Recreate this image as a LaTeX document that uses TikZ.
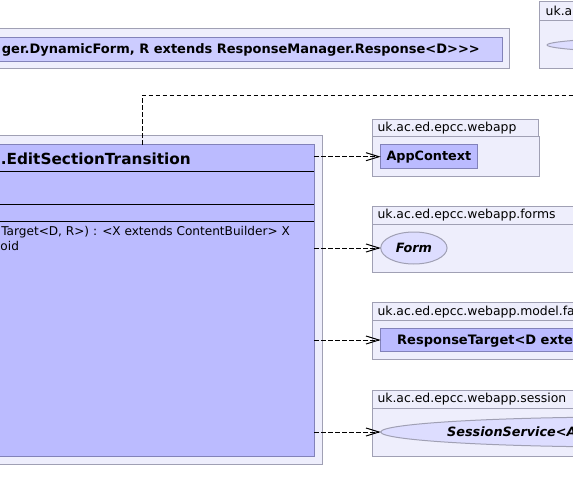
\documentclass[tikz,border=0pt]{standalone}
\usepackage{fontspec}
\setmainfont{DejaVu Sans}[Ligatures=TeXOff,BoldFont={DejaVu Sans Bold},ItalicFont={DejaVu Sans Oblique},BoldItalicFont={DejaVu Sans Bold Oblique}]
\usetikzlibrary{arrows.meta,shapes.geometric}
\definecolor{pkgfill}{RGB}{238,238,252}
\definecolor{pkgline}{RGB}{160,160,180}
\definecolor{clsfill}{RGB}{187,187,255}
\definecolor{clsline}{RGB}{130,130,185}
\definecolor{tplfill}{RGB}{204,204,255}
\definecolor{ifill}{RGB}{221,221,255}
\tikzset{
  box/.style={rectangle, inner sep=0pt, outer sep=0pt, line width=1bp},
  pkgbox/.style={box, draw=pkgline, fill=pkgfill},
  clsbox/.style={box, draw=clsline, fill=clsfill},
  tplbox/.style={box, draw=clsline, fill=tplfill},
  ifc/.style={ellipse, inner sep=0pt, outer sep=0pt, draw=pkgline, fill=ifill, line width=1bp},
  lbl/.style={inner sep=0pt, font=\fontsize{12.4bp}{14bp}\selectfont},
  mth/.style={inner sep=0pt, font=\fontsize{12.1bp}{14bp}\selectfont},
  bld/.style={inner sep=0pt, font=\fontsize{12.8bp}{14bp}\selectfont\bfseries},
  bldw/.style={inner sep=0pt, font=\fontsize{13bp}{14bp}\selectfont\bfseries},
  bit/.style={inner sep=0pt, font=\fontsize{12.8bp}{14bp}\selectfont\bfseries\itshape},
  ttl/.style={inner sep=0pt, font=\fontsize{15.3bp}{18bp}\selectfont\bfseries},
  sepline/.style={draw=black, line width=1bp},
  deppath/.style={draw=black, line width=1bp, dash pattern=on 4.5bp off 2.5bp},
  dep/.style={deppath, -{Straight Barb[length=13bp,width=8bp,line width=1bp]}},
}
\begin{document}
\begin{tikzpicture}[x=1bp,y=-1bp]
\useasboundingbox (0,0) rectangle (573,502);
\fill[white] (0,0) rectangle (573,502);
\clip (0,0) rectangle (573,502);

% top template box
\node[pkgbox, anchor=north west, minimum width=609bp, minimum height=40bp] (tplpkg) at (-100,29) {};
\node[tplbox, anchor=north west, minimum width=602bp, minimum height=24.5bp] (tplcls) at (-100,37.2) {};
\node[bldw, anchor=base east] (tpltxt) at (480,53.5) {ger.DynamicForm, R extends ResponseManager.Response<D>\kern0pt>\kern0pt>};

% top right package
\node[pkgbox, anchor=north west, minimum width=100bp, minimum height=19.5bp] (ukatab) at (539.3,1.5) {};
\node[pkgbox, anchor=north west, minimum width=100bp, minimum height=48bp] (ukabody) at (539.3,21) {};
\node[lbl, anchor=base west] (ukalbl) at (545.5,15.5) {uk.a};
\node[ifc, minimum width=1120bp, minimum height=30bp] (ukaifc) at (1107,45) {};

% main package and class
\node[pkgbox, anchor=north east, minimum width=430bp, minimum height=328bp] (mainpkg) at (322,136) {};
\node[clsbox, anchor=north east, minimum width=420bp, minimum height=311bp] (main) at (314,145) {};
\draw[sepline] ([yshift=-26.7bp]main.north west) -- ([yshift=-26.7bp]main.north east);
\draw[sepline] ([yshift=-59.3bp]main.north west) -- ([yshift=-59.3bp]main.north east);
\draw[sepline] ([yshift=-76bp]main.north west) -- ([yshift=-76bp]main.north east);
\node[ttl, anchor=base east] (maintitle) at (191,165) {.EditSectionTransition};
\node[mth, anchor=base east] (m1) at (290,235.5) {Target<D, R>) : <X extends ContentBuilder> X};
\node[mth, anchor=base west] (m2) at (0.3,250.5) {oid};

% webapp package
\node[pkgbox, anchor=north west, minimum width=165.5bp, minimum height=17bp] (p1tab) at (372.7,120) {};
\node[pkgbox, anchor=north west, minimum width=166.5bp, minimum height=39.5bp] (p1body) at (372.7,137) {};
\node[lbl, anchor=base west] (p1lbl) at (377.3,131.5) {uk.ac.ed.epcc.webapp};
\node[clsbox, anchor=north west, minimum width=96.3bp, minimum height=23.4bp, bld] (app) at (380.7,145) {AppContext};

% forms package
\node[pkgbox, anchor=north west, minimum width=250bp, minimum height=17.6bp] (p2tab) at (372.7,206.7) {};
\node[pkgbox, anchor=north west, minimum width=250bp, minimum height=48bp] (p2body) at (372.7,224.3) {};
\node[lbl, anchor=base west] (p2lbl) at (377.3,219) {uk.ac.ed.epcc.webapp.forms};
\node[ifc, minimum width=66.3bp, minimum height=32bp, bit] (form) at (413.9,248) {Form};

% model package
\node[pkgbox, anchor=north west, minimum width=250bp, minimum height=18bp] (p3tab) at (372.7,302.7) {};
\node[pkgbox, anchor=north west, minimum width=250bp, minimum height=38.6bp] (p3body) at (372.7,320.7) {};
\node[lbl, anchor=base west] (p3lbl) at (377.3,315) {uk.ac.ed.epcc.webapp.model.fa};
\node[clsbox, anchor=north west, minimum width=250bp, minimum height=23.4bp] (rt) at (380.7,328.3) {};
\node[bldw, anchor=base west] (rttxt) at (397,344.7) {ResponseTarget<D exte};

% session package
\node[pkgbox, anchor=north west, minimum width=250bp, minimum height=18.3bp] (p4tab) at (372.7,390) {};
\node[pkgbox, anchor=north west, minimum width=250bp, minimum height=47.7bp] (p4body) at (372.7,408.3) {};
\node[lbl, anchor=base west] (p4lbl) at (377.3,402.5) {uk.ac.ed.epcc.webapp.session};
\node[ifc, minimum width=500bp, minimum height=30bp] (ss) at (630.7,432) {};
\node[bit, anchor=base west] (sstxt) at (447,436.6) {SessionService<A};

% connectors
\coordinate (bend) at (142,95.5);
\coordinate (offright) at (590,95.5);
\draw[deppath] (main.north -| bend) -- (bend) -- (offright);
\draw[dep] (main.east |- app.west) -- (app.west);
\draw[dep] (main.east |- form.west) -- (form.west);
\draw[dep] (main.east |- rt.west) -- (rt.west);
\draw[dep] (main.east |- ss.west) -- (ss.west);
\end{tikzpicture}
\end{document}
